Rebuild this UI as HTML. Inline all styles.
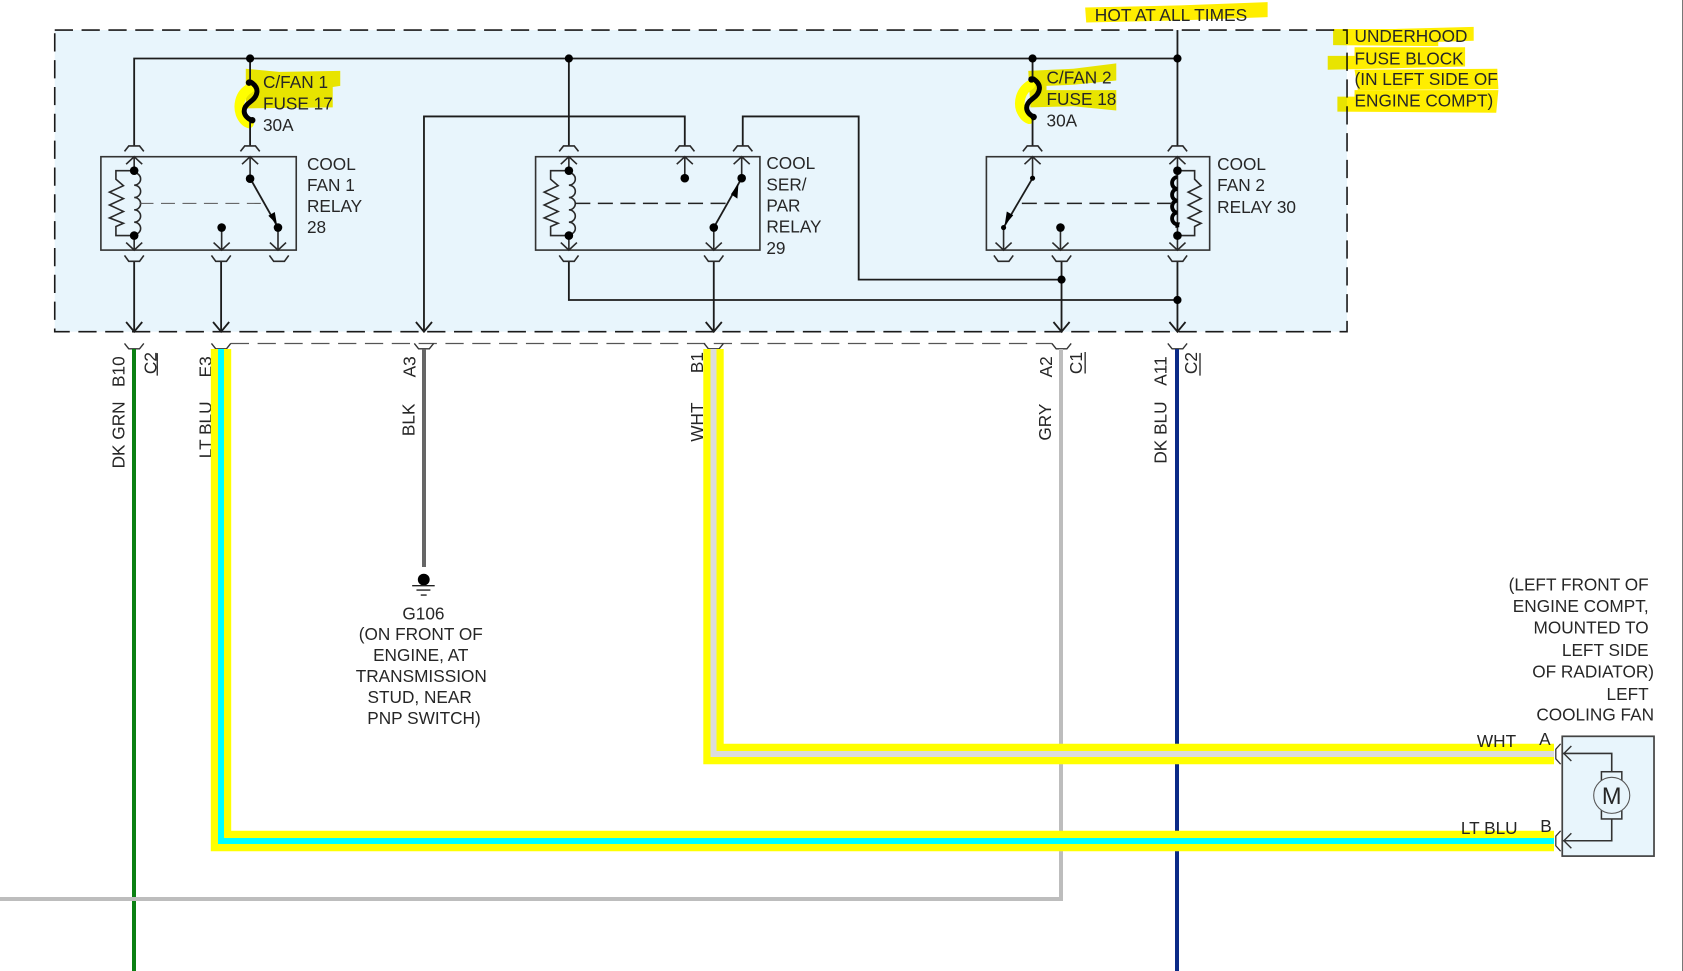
<!DOCTYPE html>
<html><head><meta charset="utf-8"><title>Cooling fan wiring</title>
<style>
html,body{margin:0;padding:0;background:#fff;width:1683px;height:971px;overflow:hidden}
svg{display:block;position:absolute;left:0;top:0}
text{font-family:"Liberation Sans",sans-serif;font-size:16.05px;fill:#262626}
.w{fill:none;stroke:#1c1c1c;stroke-width:1.7}
.c{fill:none;stroke:#2a2a2a;stroke-width:1.5}
.h{mix-blend-mode:multiply}
</style></head><body>
<svg width="1683" height="971" viewBox="0 0 1683 971" xmlns="http://www.w3.org/2000/svg">
<defs>
<path id="ct" class="c" d="M-9,141 L-5,136 H5 L9,141"/>
<path id="cb" class="c" d="M-9,238 L-5,243.5 H5 L9,238"/>
<path id="cx" fill="none" stroke="#333" stroke-width="1.3" d="M-9,320 L-5,325 H5 L9,320"/>
<path id="au" class="c" d="M-7.5,153 L0,146 L7.5,153"/>
<path id="ad" class="c" d="M-7.5,226 L0,233 L7.5,226"/>
<path id="ae" class="w" d="M-7.5,300 L0,309 L7.5,300"/>
</defs>

<g transform="scale(1.07334)">
<rect x="51" y="28" width="1204" height="281" fill="#e8f5fc"/>
<rect x="51" y="28" width="1204" height="281" fill="none" stroke="#1a1a1a" stroke-width="1.5" stroke-dasharray="17 8"/>

<!-- highlights under wires -->
<g class="h" fill="#ffee00">
<path d="M1011,7 L1100,5 L1181,2 L1181,16 L1100,19 L1012,21Z"/>
<path d="M1242,27 L1300,27 L1373,25 L1373,38 L1340,39 L1340,43 L1242,42Z"/>
<path d="M1237,52 L1262,52 L1262,44 L1365,44 L1365,62 L1237,65Z"/>
<path d="M1262,65 L1395,64 L1396,83 L1265,84Z"/>
<path d="M1246,90 L1262,90 L1262,84 L1396,84 L1394,105 L1246,104Z"/>
<path d="M229,64 L260,67 L317,66 L317,80 L310,81 L310,100 L229,101Z"/>
<path d="M958,66 L1000,64 L1040,59 L1040,75 L1000,79 L975,80 L975,84 L1040,84 L1040,103 L1000,99 L960,100Z"/>
</g>
<g fill="none" stroke="#ffff00" stroke-linecap="round">
<path d="M233,82 C222,88 222,100 224,106 C226,111 229,114 232,115" stroke-width="9"/>
<path d="M960,79 C950,85 949,96 951,102 C953,107 956,110 959,111" stroke-width="9"/>
</g>

<!-- internal wiring -->
<path class="w" d="M125,136 V54.5 H1097"/>
<path class="w" d="M233,54.5 V78 M233,112 V136"/>
<path class="w" d="M962,54.5 V74 M962,108 V136"/>
<path class="w" d="M530,54.5 V136"/>
<path class="w" d="M1097,28 V136"/>
<path class="w" d="M395,309 V108.5 H638 V136"/>
<path class="w" d="M692,136 V108.5 H800 V260.5 H989"/>
<path class="w" d="M530,244 V279.5 H1097"/>
<path class="w" d="M125,244 V309 M206,244 V309 M665,244 V309 M989,244 V309 M1097,244 V309"/>
<g fill="#000">
<circle cx="233" cy="54.5" r="3.8"/><circle cx="530" cy="54.5" r="3.8"/><circle cx="962" cy="54.5" r="3.8"/><circle cx="1097" cy="54.5" r="3.8"/>
<circle cx="989" cy="260.5" r="3.8"/><circle cx="1097" cy="279.5" r="3.8"/>
</g>
<!-- fuses -->
<path fill="none" stroke="#000" stroke-width="4.6" d="M233,76 C243,82 240,90 233,95 C226,100 225,107 234,112"/>
<path fill="none" stroke="#000" stroke-width="4.6" d="M962,73 C972,79 969,87 962,92 C955,97 954,104 963,109"/>
<circle cx="232" cy="77" r="3"/><circle cx="235" cy="112" r="3"/><circle cx="961" cy="74" r="3"/><circle cx="963" cy="109" r="3"/>

<!-- connector symbols -->
<use href="#ct" x="125"/><use href="#ct" x="233"/><use href="#ct" x="530"/><use href="#ct" x="638"/><use href="#ct" x="692"/><use href="#ct" x="962"/><use href="#ct" x="1097"/>
<use href="#cb" x="125"/><use href="#cb" x="206"/><use href="#cb" x="260"/><use href="#cb" x="530"/><use href="#cb" x="665"/><use href="#cb" x="935"/><use href="#cb" x="989"/><use href="#cb" x="1097"/>
<use href="#ae" x="125"/><use href="#ae" x="206"/><use href="#ae" x="395"/><use href="#ae" x="665"/><use href="#ae" x="989"/><use href="#ae" x="1097"/>

<!-- relay 1 -->
<rect x="94" y="146" width="182" height="87" fill="none" stroke="#333" stroke-width="1.5"/>
<use href="#au" x="125"/><use href="#au" x="233"/><use href="#ad" x="125"/><use href="#ad" x="206.500"/><use href="#ad" x="259"/>
<path class="c" d="M125,146 V159 M125,219.500 V233 M233,146 V166 M206.500,212 V233 M259,212 V233"/>
<path class="c" d="M125,161 a6,5.750 0 0 1 0,11.500 a6,5.750 0 0 1 0,11.500 a6,5.750 0 0 1 0,11.500 a6,5.750 0 0 1 0,11.500 a6,5.750 0 0 1 0,11.500"/>
<path class="c" d="M125,159 H108 V167 L115,173 L102,179 L115,185 L102,191 L115,197 L102,203 L115,208 L108,211 V219.500 H125"/>
<path fill="none" stroke="#555" stroke-width="1" stroke-dasharray="13 7" d="M130,189.500 H244"/>
<path class="w" d="M233,166 L259,212"/>
<polygon points="258,209 250,201 256,197.500" fill="#000"/>
<g fill="#000"><circle cx="125" cy="159" r="4"/><circle cx="125" cy="219.500" r="4"/><circle cx="233" cy="166.500" r="4"/><circle cx="206.500" cy="212" r="4"/><circle cx="259" cy="212" r="4"/></g>

<!-- relay 2 -->
<rect x="499" y="146" width="209" height="87" fill="none" stroke="#333" stroke-width="1.5"/>
<use href="#au" x="530"/><use href="#au" x="638"/><use href="#au" x="691"/><use href="#ad" x="530"/><use href="#ad" x="665"/>
<path class="c" d="M530,146 V159 M530,219.500 V233 M638,146 V166 M691,146 V166 M665,212 V233"/>
<path class="c" d="M530,161 a6,5.750 0 0 1 0,11.500 a6,5.750 0 0 1 0,11.500 a6,5.750 0 0 1 0,11.500 a6,5.750 0 0 1 0,11.500 a6,5.750 0 0 1 0,11.500"/>
<path class="c" d="M530,159 H513 V167 L520,173 L507,179 L520,185 L507,191 L520,197 L507,203 L520,208 L513,211 V219.500 H530"/>
<path fill="none" stroke="#222" stroke-width="1.4" stroke-dasharray="14 7" d="M536,189.500 H680"/>
<path class="w" d="M665,212 L691,166"/>
<polygon points="688,171 681,181 687,185" fill="#000"/>
<g fill="#000"><circle cx="530" cy="159" r="4"/><circle cx="530" cy="219.500" r="4"/><circle cx="638" cy="166" r="4"/><circle cx="691" cy="166" r="4"/><circle cx="665" cy="212" r="4"/></g>

<!-- relay 3 -->
<rect x="919" y="146" width="208" height="87" fill="none" stroke="#333" stroke-width="1.5"/>
<use href="#au" x="962"/><use href="#au" x="1097"/><use href="#ad" x="935"/><use href="#ad" x="988"/><use href="#ad" x="1097"/>
<path class="c" d="M962,146 V166 M935,212 V233 M988,212 V233 M1097,146 V233"/>
<path fill="none" stroke="#000" stroke-width="3.6" d="M1097,165 a5,5.500 0 0 0 0,11 a5,5.500 0 0 0 0,11 a5,5.500 0 0 0 0,11 a5,5.500 0 0 0 0,11 a5,5.500 0 0 0 0,3"/>
<path class="c" d="M1097,159 H1113 V167 L1119,173 L1107,179 L1119,185 L1107,191 L1119,197 L1107,203 L1119,208 L1113,211 V219.500 H1097"/>
<path fill="none" stroke="#222" stroke-width="1.4" stroke-dasharray="14 7" d="M952,189.500 H1092"/>
<path class="w" d="M962,166 L935,212"/>
<polygon points="936,210 938,197 944,200.500" fill="#000"/>
<g fill="#000"><circle cx="962" cy="166" r="2.400"/><circle cx="935" cy="212" r="2.400"/><circle cx="988" cy="212" r="4"/><circle cx="1097" cy="159" r="4"/><circle cx="1097" cy="219.500" r="4"/></g>

<!-- lower harness connector -->
<path fill="none" stroke="#555" stroke-width="1.2" stroke-dasharray="17 8" d="M215,320 H980"/>
<use href="#cx" x="125"/><use href="#cx" x="206"/><use href="#cx" x="395"/><use href="#cx" x="665"/><use href="#cx" x="989"/><use href="#cx" x="1097"/>

<!-- text block -->
<text x="245" y="82">C/FAN 1</text><text x="245" y="102">FUSE 17</text><text x="245" y="122">30A</text>
<text x="975" y="78">C/FAN 2</text><text x="975" y="98">FUSE 18</text><text x="975" y="118">30A</text>
<text x="286" y="158.500">COOL</text><text x="286" y="178">FAN 1</text><text x="286" y="197.500">RELAY</text><text x="286" y="217">28</text>
<text x="714" y="157.500">COOL</text><text x="714" y="177.500">SER/</text><text x="714" y="197">PAR</text><text x="714" y="216.500">RELAY</text><text x="714" y="236.500">29</text>
<text x="1134" y="158.500">COOL</text><text x="1134" y="178">FAN 2</text><text x="1134" y="198.500">RELAY 30</text>
<text x="1020" y="19.500" textLength="142" lengthAdjust="spacingAndGlyphs">HOT AT ALL TIMES</text>
<text x="1262" y="39">UNDERHOOD</text><text x="1262" y="60">FUSE BLOCK</text><text x="1262" y="79">(IN LEFT SIDE OF</text><text x="1262" y="99">ENGINE COMPT)</text>

<g text-anchor="end">
<text transform="translate(116,332) rotate(-90)">B10</text>
<text transform="translate(116,374) rotate(-90)">DK GRN</text>
<text transform="translate(146,328) rotate(-90)">C2</text>
<text transform="translate(197,332) rotate(-90)">E3</text>
<text transform="translate(197,374) rotate(-90)">LT BLU</text>
<text transform="translate(387,332) rotate(-90)">A3</text>
<text transform="translate(386,376) rotate(-90)">BLK</text>
<text transform="translate(655,328) rotate(-90)">B1</text>
<text transform="translate(655,375) rotate(-90)">WHT</text>
<text transform="translate(980,332) rotate(-90)">A2</text>
<text transform="translate(979,376) rotate(-90)">GRY</text>
<text transform="translate(1008,328) rotate(-90)">C1</text>
<text transform="translate(1087,332) rotate(-90)">A11</text>
<text transform="translate(1087,374) rotate(-90)">DK BLU</text>
<text transform="translate(1115,328) rotate(-90)">C2</text>
</g>
<path stroke="#222" stroke-width="1.2" fill="none" d="M146.500,329 V350 M1011,328 V348 M1118,329 V350"/>

<!-- ground -->
<circle cx="394.800" cy="540" r="5.500" fill="#000"/>
<path stroke="#222" stroke-width="1.3" fill="none" d="M384,545.700 H405 M388,549.700 H401 M392,554.400 H397.500"/>
<g text-anchor="middle">
<text x="394.500" y="577.300">G106</text><text x="392" y="596.300">(ON FRONT OF</text><text x="392" y="615.800">ENGINE, AT</text><text x="392.500" y="635.300">TRANSMISSION</text><text x="391" y="654.800">STUD, NEAR</text><text x="395" y="674.300">PNP SWITCH)</text>
</g>
<g text-anchor="end">
<text x="1536" y="550.300">(LEFT FRONT OF</text><text x="1536" y="570.300">ENGINE COMPT,</text><text x="1536" y="590.300">MOUNTED TO</text><text x="1536" y="611.300">LEFT SIDE</text><text x="1541" y="631.300">OF RADIATOR)</text><text x="1536" y="652.300">LEFT</text><text x="1541" y="671.300">COOLING FAN</text>
</g>
</g>

<!-- harness wires (reference pixels) -->
<path d="M134,349 V971" fill="none" stroke="#0a8012" stroke-width="4"/>
<path d="M424,349 V567" fill="none" stroke="#666" stroke-width="4"/>
<path d="M1177,349 V971" fill="none" stroke="#0a2a86" stroke-width="4"/>
<path d="M1061,349 V899 H0" fill="none" stroke="#bdbdbd" stroke-width="4"/>
<path d="M713.500,349 V754 H1554" fill="none" stroke="#ffff00" stroke-width="20.400"/>
<path d="M713.500,349 V754 H1554" fill="none" stroke="#dcdcdc" stroke-width="6"/>
<path d="M221,349 V841 H1554" fill="none" stroke="#ffff00" stroke-width="20.400"/>
<path d="M221,349 V841 H1554" fill="none" stroke="#00ffff" stroke-width="6"/>

<g transform="scale(1.07334)">
<!-- motor -->
<rect x="1455.500" y="686" width="85.500" height="111.600" fill="#e8f5fc" stroke="#444" stroke-width="1.600"/>
<path fill="none" stroke="#333" stroke-width="1.500" d="M1456,702 H1501.600 V719 M1501.600,763 V783.300 H1456"/>
<rect x="1492" y="719" width="19" height="44" fill="#e8f5fc" stroke="#333" stroke-width="1.400"/>
<circle cx="1501.600" cy="741" r="16.800" fill="#e8f5fc" stroke="#555" stroke-width="1"/>
<text x="1501.600" y="749" text-anchor="middle" style="font-size:22px">M</text>
<path fill="none" stroke="#333" stroke-width="1.300" d="M1464,695 L1457,702 L1464,709 M1464,776.300 L1457,783.300 L1464,790.300"/>
<path fill="none" stroke="#333" stroke-width="1.200" d="M1454,693 L1449.500,698 V707 L1454,712 M1454,774 L1449.500,779 V788 L1454,793"/>
<text x="1376" y="696">WHT</text><text x="1434" y="694">A</text>
<text x="1361" y="777">LT BLU</text><text x="1435" y="775">B</text>
</g>

<path d="M1682.500,0 V971" stroke="#777" stroke-width="1" fill="none"/>
</svg>
</body></html>
